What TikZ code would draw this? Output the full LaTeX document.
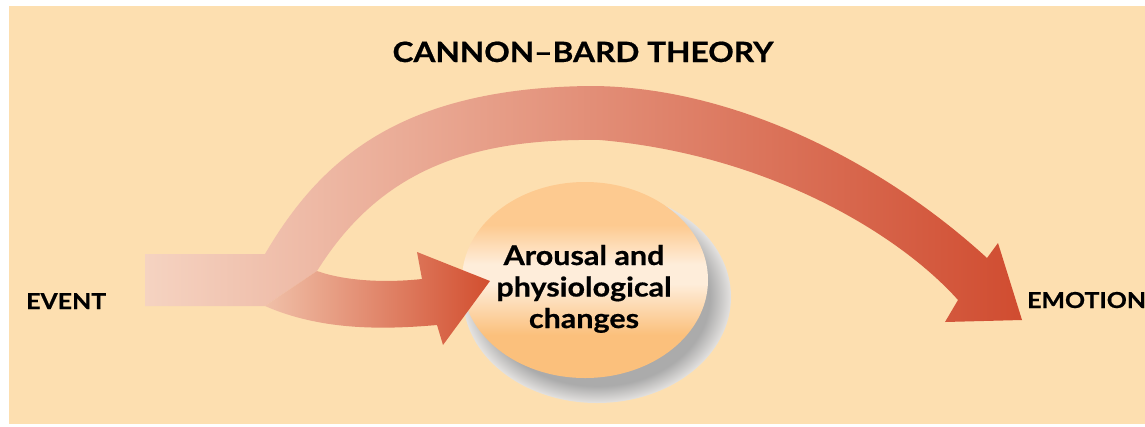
\documentclass[tikz,border=0pt]{standalone}
\usepackage{fontspec}
\setmainfont{Lato}
\newfontfamily\gillish{Lato}[UprightFont=* Bold, FakeStretch=1.13, FakeBold=0.6]
\usetikzlibrary{shapes.geometric}
\definecolor{bgpeach}{HTML}{FDDFB0}
\definecolor{archL}{HTML}{F5D3C1}
\definecolor{archR}{HTML}{D04C30}
\definecolor{lowL}{HTML}{F0C0A8}
\definecolor{lowR}{HTML}{D24E2F}
\definecolor{balltop}{HTML}{FDCA90}
\definecolor{ballmid}{HTML}{FEEDDA}
\definecolor{ballbot}{HTML}{FBC07C}
\definecolor{shdark}{HTML}{ABABAB}
\definecolor{shlight}{HTML}{E4E2E0}
\pgfdeclareverticalshading{ballshade}{100bp}{color(0bp)=(ballbot); color(36bp)=(ballbot); color(49bp)=(ballmid); color(54bp)=(ballmid); color(64bp)=(balltop); color(100bp)=(balltop)}
\pgfdeclareradialshading{shadowshade}{\pgfpoint{0bp}{0bp}}{color(0bp)=(shdark); color(21bp)=(shdark); color(25bp)=(shlight); color(50bp)=(shlight)}
\tikzset{
  lbl/.style={font=\gillish\fontsize{22}{24}\selectfont, inner sep=0pt, text=black},
  ttl/.style={font=\gillish\fontsize{28}{30}\selectfont, inner sep=0pt, text=black},
  balltext/.style={font=\gillish\fontsize{27}{31.5}\selectfont, inner sep=0pt, align=center, text=black},
  archarrow/.style={left color=archL, right color=archR},
  lowarrow/.style={left color=lowL, right color=lowR},
}
\begin{document}
\begin{tikzpicture}[x=1pt,y=-1pt]
\useasboundingbox (0,0) rectangle (1145,426);
\fill[white] (0,0) rectangle (1145,426);
\fill[bgpeach] (9,6) rectangle (1145,424);

% title and labels
\node[ttl, anchor=base] (title) at (583,62) {CANNON–BARD THEORY};
\node[lbl, anchor=base west] (evt) at (26,309) {EVENT};
\node[lbl, anchor=base west] (emo) at (1027,308) {EMOTION};

% ball with shadow
\path[shading=shadowshade] (597,297) ellipse [x radius=134, y radius=106];
\node[ellipse, minimum width=246pt, minimum height=196pt, inner sep=0pt, shading=ballshade] (arousal) at (585,280) {};
\node[balltext, anchor=base] (arousaltext) at (584,328) {Arousal and\\physiological\\changes};

% stem + upper arch to EMOTION
\shade[archarrow]
 (145,254) -- (265,254)
 .. controls (320,160) and (400,88) .. (590,86)
 .. controls (730,86) and (880,160) .. (987,258)
 -- (998,243) -- (1022,320) -- (945,322) -- (958,300)
 .. controls (900,235) and (770,155) .. (600,140)
 .. controls (470,138) and (380,170) .. (317,271)
 -- (265,306) -- (145,306) -- cycle;

% lower branch to the ball
\shade[lowarrow]
 (265,306) -- (317,271)
 .. controls (345,281) and (385,283) .. (422,279)
 -- (417,252) -- (490,281) -- (443,345) -- (437,325)
 .. controls (380,330) and (320,330) .. (265,306) -- cycle;
\end{tikzpicture}
\end{document}
